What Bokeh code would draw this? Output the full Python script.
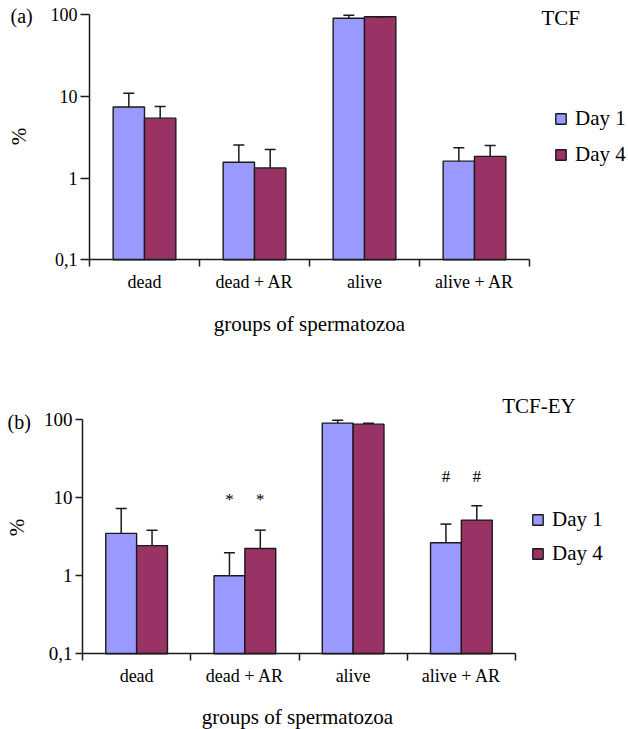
import math
from bokeh.plotting import figure
from bokeh.models import (ColumnDataSource, FixedTicker, Whisker, TeeHead, Label,
                          Legend, LegendItem, LinearAxis, LogAxis)
from bokeh.layouts import column
from bokeh.embed import file_html
from bokeh.resources import INLINE

# ---------------- data ----------------
groups = ["dead", "dead + AR", "alive", "alive + AR"]
series = ["Day 1", "Day 4"]

tcf_day1 = [7.4, 1.56, 90.0, 1.61]
tcf_day1_err = [3.5, 0.97, 8.0, 0.74]
tcf_day4 = [5.4, 1.33, 94.0, 1.84]
tcf_day4_err = [2.1, 0.91, 0.0, 0.66]

tcfey_day1 = [3.5, 1.0, 90.7, 2.65]
tcfey_day1_err = [3.8, 0.97, 8.3, 1.95]
tcfey_day4 = [2.44, 2.24, 88.0, 5.18]
tcfey_day4_err = [1.41, 1.61, 2.0, 2.72]

y_ticks = [0.1, 1, 10, 100]
y_tick_labels = ["0,1", "1", "10", "100"]

# significance markers: (group, symbol)
tcfey_marks = [("dead + AR", "*"), ("alive + AR", "#")]

COL1 = "#9999FF"
COL4 = "#993366"
FONT = "Liberation Serif"
EDGE = "#1a1a1a"
W = 628


def make_panel(tag, name, d1, e1, d4, e4, marks, g):
    H = g["H"]
    # pixel -> data helpers for placing the texts of this panel
    px2x = lambda px: (px - g["x0"]) / g["cat"]
    py2y = lambda py: 10 ** (2 - (py - g["top"]) / g["dec"])

    p = figure(width=W, height=H, x_range=(px2x(0), px2x(W)),
               y_range=(py2y(H), py2y(0)), y_axis_type="log",
               x_axis_location=None, y_axis_location=None,
               output_backend="svg", toolbar_location=None,
               min_border=0, min_border_left=0, min_border_right=0,
               min_border_top=0, min_border_bottom=0)
    p.outline_line_color = None
    p.grid.visible = False
    p.background_fill_color = "white"
    p.border_fill_color = "white"

    half = 0.1425
    bw = 0.285
    centers = [i + 0.5 for i in range(len(groups))]
    x1 = [c - half for c in centers]
    x4 = [c + half for c in centers]
    s1 = ColumnDataSource(dict(x=x1, top=d1, up=[v + e for v, e in zip(d1, e1)]))
    s4 = ColumnDataSource(dict(x=x4, top=d4, up=[v + e for v, e in zip(d4, e4)]))

    r1 = p.vbar(x="x", top="top", bottom=0.1, width=bw, source=s1,
                fill_color=COL1, line_color=EDGE, line_width=1.4)
    r4 = p.vbar(x="x", top="top", bottom=0.1, width=bw, source=s4,
                fill_color=COL4, line_color=EDGE, line_width=1.4)
    for s in (s1, s4):
        w = Whisker(source=s, base="x", lower="top", upper="up", dimension="height",
                    line_color=EDGE, line_width=1.5, level="overlay",
                    upper_head=TeeHead(size=11, line_color=EDGE, line_width=1.5),
                    lower_head=None)
        p.add_layout(w)

    # axes (fixed inside the frame)
    xa = LinearAxis(fixed_location=0.1, bounds=(0, 4))
    xa.ticker = FixedTicker(ticks=centers, minor_ticks=[0, 1, 2, 3, 4])
    xa.major_label_overrides = {c: lab for c, lab in zip(centers, groups)}
    xa.major_tick_out = 0
    xa.major_tick_in = 0
    xa.minor_tick_out = g["xtick"]
    xa.minor_tick_in = 0
    xa.minor_tick_line_color = EDGE
    xa.minor_tick_line_width = 1.5
    xa.axis_line_color = EDGE
    xa.axis_line_width = 1.5
    xa.major_label_text_font = FONT
    xa.major_label_text_font_size = "18px"
    xa.major_label_text_color = "black"
    xa.major_label_standoff = g["xstand"]
    p.add_layout(xa, "below")

    ya = LogAxis(fixed_location=0, bounds=(0.1, 100))
    ya.ticker = FixedTicker(ticks=y_ticks, minor_ticks=[])
    ya.major_label_overrides = {t: lab for t, lab in zip(y_ticks, y_tick_labels)}
    ya.major_tick_out = g["ytick"]
    ya.major_tick_in = 0
    ya.major_tick_line_color = EDGE
    ya.major_tick_line_width = 1.5
    ya.axis_line_color = EDGE
    ya.axis_line_width = 1.5
    ya.major_label_text_font = FONT
    ya.major_label_text_font_size = g["yfs"]
    ya.major_label_text_color = "black"
    ya.major_label_standoff = 3
    p.add_layout(ya, "left")

    def lab(px, py, text, size, align="left", angle=0.0):
        p.add_layout(Label(x=px2x(px), y=py2y(py), text=text, text_font=FONT,
                           text_font_size=size, text_align=align, angle=angle,
                           text_baseline="middle", text_color="black"))

    lab(*g["tag"], tag, "20px")
    lab(*g["name"], name, "21px")
    lab(*g["pct"], "%", "21px", align="center", angle=math.pi / 2)
    lab(*g["title"], "groups of spermatozoa", "21px", align="center")

    # significance markers
    for grp, sym in marks:
        i = groups.index(grp)
        for xx in (x1[i], x4[i]):
            p.add_layout(Label(x=xx, y=py2y(g["marks"][sym]), text=sym, text_font=FONT,
                               text_font_size="17px", text_align="center",
                               text_baseline="middle", text_color="black"))

    lx, lbot = g["legend"]
    leg = Legend(items=[LegendItem(label=series[0], renderers=[r1]),
                        LegendItem(label=series[1], renderers=[r4])],
                 location=(lx, H - lbot), margin=0, padding=0, border_line_color=None,
                 background_fill_alpha=0, glyph_width=13, glyph_height=13,
                 label_standoff=8, spacing=g["lspace"], label_height=24,
                 label_text_font=FONT, label_text_font_size="21px",
                 label_text_color="black")
    p.add_layout(leg)
    return p


geom_a = dict(H=365, x0=89, cat=110, top=14, dec=81.77, xtick=7, xstand=5, ytick=9,
              yfs="18px", tag=(10, 15.5), name=(541, 17), pct=(18, 136),
              title=(309, 323), legend=(554, 167), lspace=11, marks={})
geom_b = dict(H=364, x0=82, cat=108.25, top=54.3, dec=78, xtick=7, xstand=5, ytick=7,
              yfs="19px", tag=(7, 56.7), name=(501.7, 40), pct=(16.5, 162),
              title=(297, 351), legend=(531, 201), lspace=9,
              marks={"*": 134, "#": 111})

pa = make_panel("(a)", "TCF", tcf_day1, tcf_day1_err, tcf_day4, tcf_day4_err, [], geom_a)
pb = make_panel("(b)", "TCF-EY", tcfey_day1, tcfey_day1_err, tcfey_day4, tcfey_day4_err,
                tcfey_marks, geom_b)

layout = column(pa, pb, spacing=0)
open("out.html", "w").write(file_html(layout, INLINE))
